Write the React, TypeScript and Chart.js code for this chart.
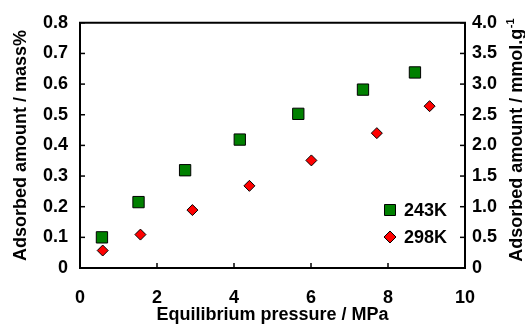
import React, { useEffect, useRef } from "react";
import { Chart, registerables } from "chart.js";

Chart.register(...registerables);

const pressure243 = [0.57, 1.52, 2.73, 4.15, 5.67, 7.35, 8.7];
const amount243 = [0.1, 0.215, 0.319, 0.419, 0.503, 0.582, 0.638];
const pressure298 = [0.59, 1.57, 2.92, 4.4, 6.01, 7.71, 9.08];
const amount298 = [0.057, 0.109, 0.189, 0.268, 0.351, 0.44, 0.528];
const seriesLabels = ["243K", "298K"];
const xTitle = "Equilibrium pressure / MPa";
const yTitle = "Adsorbed amount / mass%";
const y2TitleMain = "Adsorbed amount / mmol.g";
const y2TitleSup = "-1";

const FONT = "'Liberation Sans', Arial, sans-serif";
const FS = 18;

const frameTicks = {
  id: "frameTicks",
  afterDatasetsDraw(chart: any) {
    const { ctx, chartArea } = chart;
    const { left, right, top, bottom } = chartArea;
    ctx.save();
    ctx.strokeStyle = "#000";
    ctx.lineWidth = 2;
    ctx.beginPath();
    ctx.moveTo(left - 1, top);
    ctx.lineTo(right + 1, top);
    ctx.stroke();
    ctx.lineWidth = 1.5;
    const len = 5;
    const xs = chart.scales.x;
    xs.ticks.forEach((t: any) => {
      const px = xs.getPixelForValue(t.value);
      if (px <= left + 1 || px >= right - 1) return;
      ctx.beginPath();
      ctx.moveTo(px, bottom);
      ctx.lineTo(px, bottom - len);
      ctx.stroke();
    });
    const ys = chart.scales.y;
    ys.ticks.forEach((t: any) => {
      const py = ys.getPixelForValue(t.value);
      if (py >= bottom - 1) return;
      ctx.beginPath();
      ctx.moveTo(left, py);
      ctx.lineTo(left + len, py);
      ctx.stroke();
    });
    const y2 = chart.scales.y2;
    y2.ticks.forEach((t: any) => {
      const py = y2.getPixelForValue(t.value);
      if (py >= bottom - 1) return;
      ctx.beginPath();
      ctx.moveTo(right, py);
      ctx.lineTo(right - len, py);
      ctx.stroke();
    });
    // legend
    const lx = right - 75;
    const ly1 = bottom - 58;
    const ly2 = bottom - 31;
    ctx.lineWidth = 1;
    ctx.fillStyle = "#008000";
    ctx.strokeStyle = "#000";
    ctx.beginPath();
    ctx.rect(lx - 5.5, ly1 - 5.5, 11, 11);
    ctx.fill();
    ctx.stroke();
    ctx.fillStyle = "#ff0000";
    ctx.beginPath();
    ctx.moveTo(lx, ly2 - 6);
    ctx.lineTo(lx + 6, ly2);
    ctx.lineTo(lx, ly2 + 6);
    ctx.lineTo(lx - 6, ly2);
    ctx.closePath();
    ctx.fill();
    ctx.stroke();
    ctx.fillStyle = "#000";
    ctx.font = `bold ${FS}px ${FONT}`;
    ctx.textBaseline = "middle";
    ctx.textAlign = "left";
    ctx.fillText(seriesLabels[0], lx + 14, ly1 + 1);
    ctx.fillText(seriesLabels[1], lx + 14, ly2 + 1);
    // right axis title, reading bottom to top
    const cx = y2.right - 8;
    const cy = (top + bottom) / 2 - 5;
    ctx.translate(cx, cy);
    ctx.rotate(-Math.PI / 2);
    ctx.font = `bold ${FS}px ${FONT}`;
    const w1 = ctx.measureText(y2TitleMain).width;
    ctx.font = `bold 11px ${FONT}`;
    const w2 = ctx.measureText(y2TitleSup).width;
    const start = -(w1 + w2) / 2;
    ctx.textBaseline = "middle";
    ctx.font = `bold ${FS}px ${FONT}`;
    ctx.fillText(y2TitleMain, start, 0);
    ctx.font = `bold 11px ${FONT}`;
    ctx.fillText(y2TitleSup, start + w1 + 0.5, -6);
    ctx.restore();
  },
};

export default function App() {
  const ref = useRef<HTMLCanvasElement>(null);
  useEffect(() => {
    if (!ref.current) return;
    const tickFont = { family: FONT, size: FS, weight: "bold" as const };
    const titleFont = { family: FONT, size: FS, weight: "bold" as const, lineHeight: 1 };
    const chart = new Chart(ref.current, {
      type: "scatter",
      data: {
        datasets: [
          {
            label: seriesLabels[0],
            data: pressure243.map((x, i) => ({ x, y: amount243[i] })),
            backgroundColor: "#008000",
            borderColor: "#000",
            borderWidth: 1,
            pointStyle: "rect",
            pointRadius: 8,
            yAxisID: "y",
          },
          {
            label: seriesLabels[1],
            data: pressure298.map((x, i) => ({ x, y: amount298[i] })),
            backgroundColor: "#ff0000",
            borderColor: "#000",
            borderWidth: 1,
            pointStyle: "rectRot",
            pointRadius: 5.5,
            yAxisID: "y",
          },
        ],
      },
      options: {
        responsive: false,
        animation: false,
        layout: { padding: { top: 18, left: 0, right: 0, bottom: 0 } },
        plugins: { legend: { display: false }, tooltip: { enabled: false } },
        scales: {
          x: {
            type: "linear",
            position: "bottom",
            min: 0,
            max: 10,
            ticks: {
              stepSize: 2,
              font: tickFont,
              color: "#000",
              padding: 19,
              maxRotation: 0,
            },
            grid: { display: false, drawTicks: false },
            border: { display: true, color: "#000", width: 2 },
            title: {
              display: true,
              text: xTitle,
              font: titleFont,
              color: "#000",
              padding: { top: 0, bottom: 0 },
            },
            afterFit(s: any) {
              s.height = 56;
            },
          },
          y: {
            type: "linear",
            position: "left",
            min: 0,
            max: 0.8,
            ticks: {
              stepSize: 0.1,
              font: tickFont,
              color: "#000",
              padding: 12,
              callback: (v: any) => (Number(v) === 0 ? "0" : Number(v).toFixed(1)),
            },
            grid: { display: false, drawTicks: false },
            border: { display: true, color: "#000", width: 2 },
            title: {
              display: true,
              text: yTitle,
              font: titleFont,
              color: "#000",
              padding: { top: 12, bottom: 0 },
            },
            afterFit(s: any) {
              s.width = 80;
            },
          },
          y2: {
            type: "linear",
            position: "right",
            min: 0,
            max: 4,
            ticks: {
              stepSize: 0.5,
              font: tickFont,
              color: "#000",
              padding: 7,
              callback: (v: any) => (Number(v) === 0 ? "0" : Number(v).toFixed(1)),
            },
            grid: { display: false, drawTicks: false },
            border: { display: true, color: "#000", width: 2 },
            title: { display: false },
            afterFit(s: any) {
              s.width = 60;
            },
          },
        },
      },
      plugins: [frameTicks],
    });
    return () => chart.destroy();
  }, []);
  return (
    <div style={{ position: "absolute", left: 0, top: 0, width: 525, height: 324, background: "#fff" }}>
      <canvas ref={ref} width={525} height={324} />
    </div>
  );
}
